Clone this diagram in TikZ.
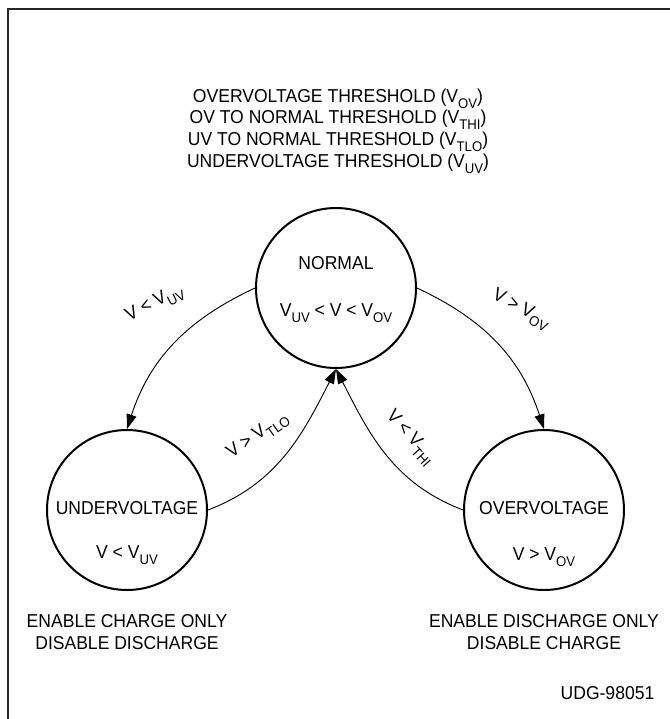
\documentclass[tikz,border=0pt]{standalone}
\usepackage{fontspec}
\setmainfont[FakeStretch=0.94]{Liberation Sans}
\usetikzlibrary{arrows.meta}
\newcommand{\vsub}[1]{V\raisebox{-0.6ex}{\fontsize{10.5pt}{11pt}\selectfont #1}}
\tikzset{
  state/.style={circle, draw, line width=1.5pt, minimum size=120pt, inner sep=0pt},
  conn/.style={line width=0.7pt, -{Triangle[length=11pt,width=7.5pt]}},
  statetext/.style={align=center, inner sep=0pt},
}
\begin{document}
\begin{tikzpicture}[x=0.75pt, y=0.75pt, font=\fontsize{14pt}{16pt}\selectfont]
    \useasboundingbox (0,0) rectangle (670,-719);
    \draw[line width=2.2pt, black!85] (670,-9) -- (8,-9) -- (8,-719);
    \node[align=center, font=\fontsize{14pt}{16.2pt}\selectfont] (thresholds) at (338,-131)
        {OVERVOLTAGE THRESHOLD (\vsub{OV})\\ OV TO NORMAL THRESHOLD (\vsub{THI})\\
         UV TO NORMAL THRESHOLD (\vsub{TLO})\\ UNDERVOLTAGE THRESHOLD (\vsub{UV})};
    \node[state] (normal) at (336,-288) {};
    \node[state] (uv) at (127,-510) {};
    \node[state] (ov) at (544,-510) {};
    \node (normaltop) at (336,-263) {NORMAL};
    \node (normalbot) at (336,-313) {\vsub{UV} < V < \vsub{OV}};
    \node (uvtop) at (127,-508) {UNDERVOLTAGE};
    \node (uvbot) at (127,-555) {V < \vsub{UV}};
    \node (ovtop) at (544,-508) {OVERVOLTAGE};
    \node (ovbot) at (544,-557) {V > \vsub{OV}};
    \draw[conn] (normal.west) to[out=205, in=72] (uv.north);
    \draw[conn] (normal.east) to[out=-25, in=108] (ov.north);
    \draw[conn] (uv.east) to[out=21, in=243] (normal.south);
    \draw[conn] (ov.west) to[out=159, in=297] (normal.south);
    \node[rotate=27] (lbluv) at (155,-304) {V < \vsub{UV}};
    \node[rotate=-27] (lblov) at (521,-310) {V > \vsub{OV}};
    \node[rotate=35] (lbltlo) at (258,-436) {V > \vsub{TLO}};
    \node[rotate=-48] (lblthi) at (410,-438) {V < \vsub{THI}};
    \node[statetext] (uvnote) at (127,-632) {ENABLE CHARGE ONLY\\ DISABLE DISCHARGE};
    \node[statetext] (ovnote) at (544,-632) {ENABLE DISCHARGE ONLY\\ DISABLE CHARGE};
    \node[anchor=east] (figid) at (659,-693) {UDG-98051};
\end{tikzpicture}
\end{document}
